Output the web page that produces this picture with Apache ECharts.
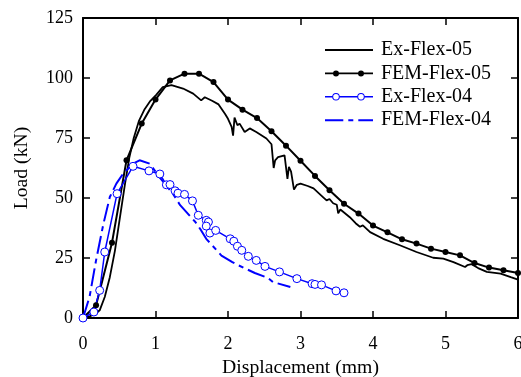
<!DOCTYPE html>
<html>
<head>
<meta charset="utf-8">
<script src="https://cdn.jsdelivr.net/npm/echarts@6/dist/echarts.min.js"></script>
<style>
html,body{margin:0;padding:0;background:#fff;}
#c{width:521px;height:377px;}
</style>
</head>
<body>
<div id="c"></div>
<script>
const xTicks = [0, 1, 2, 3, 4, 5, 6];
const yTicks = [0, 25, 50, 75, 100, 125];
const seriesNames = ['Ex-Flex-05', 'FEM-Flex-05', 'Ex-Flex-04', 'FEM-Flex-04'];

const exFlex05 = [
  [0,0],[0.1,0.8],[0.18,2],[0.23,3.2],[0.3,8.75],[0.37,17],[0.44,28],[0.51,42],[0.58,56],[0.64,67],
  [0.7,75],[0.77,82],[0.85,87],[0.93,90.5],[1.01,93],[1.1,96.2],[1.22,97],[1.38,95.6],[1.52,93.5],
  [1.63,90.7],[1.68,92],[1.78,90.5],[1.87,89],[1.96,85],[2.0,83],[2.05,79.6],[2.07,76],[2.09,83.5],
  [2.13,80.3],[2.16,81],[2.23,77.5],[2.3,79],[2.39,77.5],[2.53,74.8],[2.6,72.4],[2.63,62.5],[2.65,65.7],
  [2.69,67],[2.78,67.8],[2.82,58],[2.84,63],[2.87,61],[2.91,53.5],[2.95,55.5],[3.0,56],[3.1,55],
  [3.18,54],[3.31,50.4],[3.36,49],[3.4,49.6],[3.45,47.8],[3.5,47.2],[3.52,43.6],[3.55,45.2],[3.68,42],
  [3.76,39.5],[3.82,38],[3.86,38.6],[3.96,35.8],[4.14,33],[4.37,30.3],[4.6,27.5],[4.83,25.1],[4.97,24.7],
  [5.11,23.3],[5.27,21.25],[5.3,22],[5.36,22.4],[5.45,20.8],[5.57,19.2],[5.76,18.5],[5.9,17],[6.0,16]
];

const femFlex05 = [
  [0,0],[0.18,5.3],[0.4,31.4],[0.6,65.7],[0.81,81],[1.0,91],[1.2,99],[1.4,101.8],[1.6,101.8],
  [1.8,98.3],[2.0,91],[2.2,86.8],[2.4,83.3],[2.6,77.8],[2.8,71.8],[3.0,65.5],[3.2,59.2],[3.4,53.2],
  [3.6,47.6],[3.8,43.5],[4.0,38.5],[4.2,35.7],[4.4,32.8],[4.6,31],[4.8,28.9],[5.0,27.5],[5.2,26.1],
  [5.4,22.9],[5.6,21],[5.8,19.9],[6.0,18.75]
];

const exFlex04 = [
  [0,0],[0.15,2.5],[0.23,11.5],[0.3,27.5],[0.47,51.8],[0.69,63.2],[0.91,61.3],[1.06,60],[1.15,55.5],
  [1.2,55.6],[1.27,53],[1.31,52],[1.4,51.5],[1.51,48.8],[1.59,42.8],[1.7,40.7],[1.73,40],[1.7,38.3],
  [1.75,35.4],[1.83,36.5],[2.03,33],[2.08,32],[2.13,29.9],[2.19,28.2],[2.28,25.7],[2.39,24],[2.51,21.5],
  [2.71,19.2],[2.95,16.4],[3.16,14.3],[3.2,14],[3.29,13.8],[3.49,11.3],[3.6,10.5]
];

const femFlex04 = [
  [0,0],[0.09,8.75],[0.18,24],[0.28,39],[0.37,50.4],[0.46,56],[0.55,60],[0.69,64.3],[0.78,65.7],
  [0.92,64.3],[1.06,58.5],[1.24,51.8],[1.34,47],[1.55,40],[1.63,36.5],[1.7,33],[1.91,26],[2.06,23.3],
  [2.14,22],[2.37,18.75],[2.55,16.7],[2.62,15],[2.86,12.9]
];

const FONT = '"Liberation Serif", "Times New Roman", serif';
const BLUE = '#0000ff';
const chart = echarts.init(document.getElementById('c'), null, {renderer: 'canvas'});

// Legend icon shapes (48 x 10 box)
const BOX = 'M0,0 M48,10 ';
function dot(cx, r) {
  return 'M' + (cx - r) + ',5 A' + r + ',' + r + ' 0 1,1 ' + (cx + r) + ',5 A' + r + ',' + r + ' 0 1,1 ' + (cx - r) + ',5 Z ';
}
function dotRev(cx, r) {
  return 'M' + (cx - r) + ',5 A' + r + ',' + r + ' 0 1,0 ' + (cx + r) + ',5 A' + r + ',' + r + ' 0 1,0 ' + (cx - r) + ',5 Z ';
}
function seg(x0, x1, h) {
  const a = 5 - h / 2, b = 5 + h / 2;
  return 'M' + x0 + ',' + a + ' L' + x1 + ',' + a + ' L' + x1 + ',' + b + ' L' + x0 + ',' + b + ' Z ';
}
const iconEx05 = 'path://' + BOX + seg(0, 48, 1.9);
const iconFem05 = 'path://' + BOX + seg(0, 48, 1.9) + dot(11, 3) + dot(36, 3);
const iconEx04 = 'path://' + BOX + seg(0, 7.2, 1.5) + seg(14.8, 32.2, 1.5) + seg(39.8, 48, 1.5) +
  dot(11, 3.8) + dotRev(11, 2.8) + dot(36, 3.8) + dotRev(36, 2.8);
const iconFem04 = 'path://' + BOX + seg(0, 18.3, 2) + seg(23.3, 28.3, 2) + seg(33.3, 48, 2);

const baseX = {
  type: 'value', min: xTicks[0], max: xTicks[xTicks.length - 1], interval: 1,
  axisLine: {show: true, onZero: false, lineStyle: {color: '#000', width: 2}},
  axisTick: {show: true, inside: true, length: 7, lineStyle: {color: '#000', width: 1.5}},
  splitLine: {show: false}
};
const baseY = {
  type: 'value', min: yTicks[0], max: yTicks[yTicks.length - 1], interval: 25,
  axisLine: {show: true, onZero: false, lineStyle: {color: '#000', width: 2}},
  axisTick: {show: true, inside: true, length: 7, lineStyle: {color: '#000', width: 1.5}},
  splitLine: {show: false}
};

chart.setOption({
  animation: false,
  backgroundColor: '#fff',
  grid: {left: 83, right: 3, top: 18, bottom: 59, containLabel: false, outerBoundsMode: 'none'},
  legend: {
    left: 325, top: 40, orient: 'vertical', padding: 0,
    itemWidth: 48, itemHeight: 10, itemGap: 3.4, symbolKeepAspect: false,
    textStyle: {fontFamily: FONT, fontSize: 20, color: '#000', padding: [0, 0, 0, 3]},
    data: [
      {name: seriesNames[0], icon: iconEx05, itemStyle: {color: '#000', borderWidth: 0}},
      {name: seriesNames[1], icon: iconFem05, itemStyle: {color: '#000', borderWidth: 0}},
      {name: seriesNames[2], icon: iconEx04, itemStyle: {color: BLUE, borderWidth: 0}},
      {name: seriesNames[3], icon: iconFem04, itemStyle: {color: BLUE, borderWidth: 0}}
    ]
  },
  xAxis: [
    Object.assign({}, baseX, {
      position: 'bottom',
      name: 'Displacement (mm)', nameLocation: 'middle', nameGap: 37,
      nameTextStyle: {fontFamily: FONT, fontSize: 19.7, color: '#000'},
      axisLabel: {show: true, fontFamily: FONT, fontSize: 18, color: '#000', margin: 17,
        formatter: v => xTicks.includes(v) ? String(v) : ''}
    }),
    Object.assign({}, baseX, {position: 'top', axisLabel: {show: false}})
  ],
  yAxis: [
    Object.assign({}, baseY, {
      position: 'left',
      name: 'Load (kN)', nameLocation: 'middle', nameGap: 51,
      nameTextStyle: {fontFamily: FONT, fontSize: 19.7, color: '#000'},
      axisLabel: {show: true, fontFamily: FONT, fontSize: 18, color: '#000', margin: 10,
        formatter: v => yTicks.includes(v) ? String(v) : ''}
    }),
    Object.assign({}, baseY, {position: 'right', axisLabel: {show: false}})
  ],
  series: [
    {
      name: seriesNames[0], type: 'line', data: exFlex05,
      showSymbol: false, symbol: 'none',
      lineStyle: {color: '#000', width: 1.8}, itemStyle: {color: '#000'}
    },
    {
      name: seriesNames[1], type: 'line', data: femFlex05,
      symbol: 'circle', symbolSize: 6, showSymbol: true,
      lineStyle: {color: '#000', width: 2}, itemStyle: {color: '#000'}
    },
    {
      name: seriesNames[3], type: 'line', data: femFlex04,
      symbol: 'none', showSymbol: false,
      lineStyle: {color: BLUE, width: 2, type: [18, 5, 5, 5]}, itemStyle: {color: BLUE}
    },
    {
      name: seriesNames[2], type: 'line', data: exFlex04,
      symbol: 'circle', symbolSize: 8, showSymbol: true,
      lineStyle: {color: BLUE, width: 1.5},
      itemStyle: {color: '#fff', borderColor: BLUE, borderWidth: 1}
    }
  ]
});
</script>
</body>
</html>
